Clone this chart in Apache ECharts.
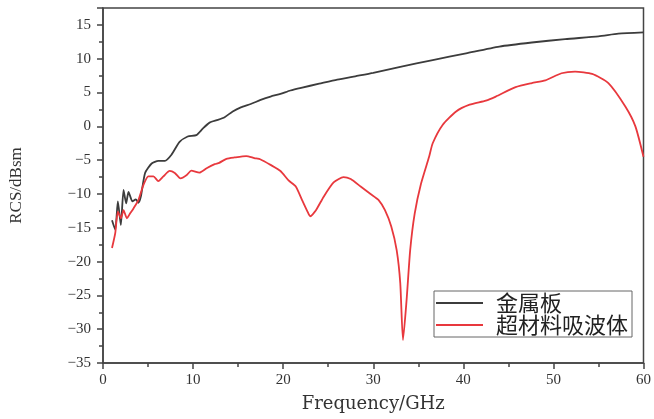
<!DOCTYPE html>
<html>
<head>
<meta charset="utf-8">
<script src="https://cdn.jsdelivr.net/npm/echarts@6/dist/echarts.min.js"></script>
<style>html,body{margin:0;padding:0;background:#fff}#c{width:654px;height:419px}</style>
</head>
<body>
<div id="c"></div>
<script>
const seriesNames = ['金属板', '超材料吸波体'];
const metalFreq = [1, 1.36, 1.65, 1.98, 2.28, 2.57, 2.83, 3.27, 3.64, 3.93, 4.2, 4.67, 5.4, 6.14, 6.87, 7.6, 8.5, 9.4, 10.36, 11.1, 11.83, 12.75, 13.5, 14.4, 15.3, 16.4, 17.5, 18.6, 19.7, 20.8, 22, 24, 26, 28, 30, 33, 36.6, 40.3, 44, 47.6, 51.3, 55, 57.2, 60];
const metalRCS = [-13.9, -15.3, -11.1, -14.6, -9.4, -11.4, -9.7, -11.1, -10.8, -11.3, -10.4, -6.9, -5.5, -5.1, -5.1, -4.2, -2.3, -1.5, -1.3, -0.3, 0.55, 0.95, 1.35, 2.2, 2.8, 3.3, 3.9, 4.4, 4.8, 5.3, 5.7, 6.3, 6.9, 7.4, 7.9, 8.8, 9.8, 10.8, 11.8, 12.4, 12.9, 13.3, 13.7, 13.9];
const absFreq = [1, 1.36, 1.65, 2, 2.28, 2.65, 3, 3.4, 3.93, 4.48, 5.03, 5.6, 6.14, 6.7, 7.4, 7.97, 8.6, 9.3, 9.8, 10.7, 11.5, 12.4, 12.9, 13.7, 14.6, 15.9, 16.8, 17.5, 18.6, 19.7, 20.6, 21.4, 22.1, 22.7, 23.0, 23.6, 24.5, 25.6, 26.7, 27.5, 28.6, 29.7, 30.6, 31.3, 32.0, 32.6, 33.0, 33.3, 33.7, 34.1, 34.6, 35.3, 36.2, 36.6, 37.7, 39.2, 40.7, 42.5, 43.6, 45.8, 47.6, 49.1, 50.9, 52.4, 54.3, 56.1, 58, 59.1, 60];
const absRCS = [-18, -15.8, -12.6, -13.6, -12.4, -13.6, -12.9, -12.1, -10.9, -8.7, -7.4, -7.4, -8.1, -7.4, -6.6, -6.9, -7.7, -7.2, -6.55, -6.85, -6.2, -5.6, -5.4, -4.8, -4.6, -4.4, -4.7, -4.9, -5.7, -6.6, -8.0, -8.9, -10.9, -12.6, -13.3, -12.5, -10.4, -8.3, -7.5, -7.8, -8.9, -10.0, -10.9, -12.4, -14.8, -18.3, -23.2, -31.6, -25.7, -18.3, -12.9, -8.5, -4.5, -2.5, 0.2, 2.2, 3.2, 3.8, 4.4, 5.8, 6.4, 6.8, 7.85, 8.1, 7.75, 6.4, 2.9, 0, -4.5];

const pairs = (xs, ys) => xs.map((x, i) => [x, ys[i]]);
const axisColor = '#444';
const serif = 'Liberation Serif';

const chart = echarts.init(document.getElementById('c'));
chart.setOption({
  animation: false,
  backgroundColor: '#fff',
  grid: { left: 101, right: 9, top: 8, bottom: 56, show: true, borderColor: axisColor, borderWidth: 1.5, backgroundColor: 'transparent' },
  legend: {
    orient: 'vertical', left: 434, top: 291,
    padding: [1, 4, 1, 2], itemGap: 0,
    borderColor: '#666', borderWidth: 1, borderRadius: 0,
    icon: 'rect', itemWidth: 47, itemHeight: 2,
    textStyle: { fontFamily: 'Noto Sans CJK SC', fontSize: 22, lineHeight: 20, color: '#222', padding: [0, 0, 0, 8] },
    data: seriesNames
  },
  xAxis: {
    type: 'value', min: 0, max: 60, interval: 10,
    name: 'Frequency/GHz', nameLocation: 'middle', nameGap: 32,
    nameTextStyle: { fontFamily: 'DejaVu Serif', fontSize: 18, color: '#333' },
    axisLine: { show: true, onZero: false, lineStyle: { color: axisColor, width: 1.5 } },
    axisTick: { show: true, inside: false, length: 6, lineStyle: { color: axisColor, width: 1.5 } },
    minorTick: { show: true, splitNumber: 2, length: 4, lineStyle: { color: axisColor, width: 1.5 } },
    axisLabel: { fontFamily: serif, fontSize: 15, color: '#333', margin: 10 },
    splitLine: { show: false }
  },
  yAxis: {
    type: 'value', min: -35, max: 17.5, interval: 5,
    name: 'RCS/dBsm', nameLocation: 'middle', nameGap: 78,
    nameTextStyle: { fontFamily: serif, fontSize: 17, color: '#333' },
    axisLine: { show: true, onZero: false, lineStyle: { color: axisColor, width: 1.5 } },
    axisTick: { show: true, inside: false, length: 6, lineStyle: { color: axisColor, width: 1.5 } },
    minorTick: { show: true, splitNumber: 2, length: 4, lineStyle: { color: axisColor, width: 1.5 } },
    axisLabel: { fontFamily: serif, fontSize: 15, color: '#333', margin: 12, showMaxLabel: false,
      formatter: v => (v < 0 ? '\u2212' + Math.abs(v) : String(v)) },
    splitLine: { show: false }
  },
  series: [
    { name: seriesNames[0], type: 'line', data: pairs(metalFreq, metalRCS), showSymbol: false, symbol: 'none',
      smooth: 0.2, lineStyle: { color: '#3c3c3c', width: 1.8 }, itemStyle: { color: '#3c3c3c' } },
    { name: seriesNames[1], type: 'line', data: pairs(absFreq, absRCS), showSymbol: false, symbol: 'none',
      smooth: 0.2, lineStyle: { color: '#e8383d', width: 1.8 }, itemStyle: { color: '#e8383d' } }
  ]
});
</script>
</body>
</html>
